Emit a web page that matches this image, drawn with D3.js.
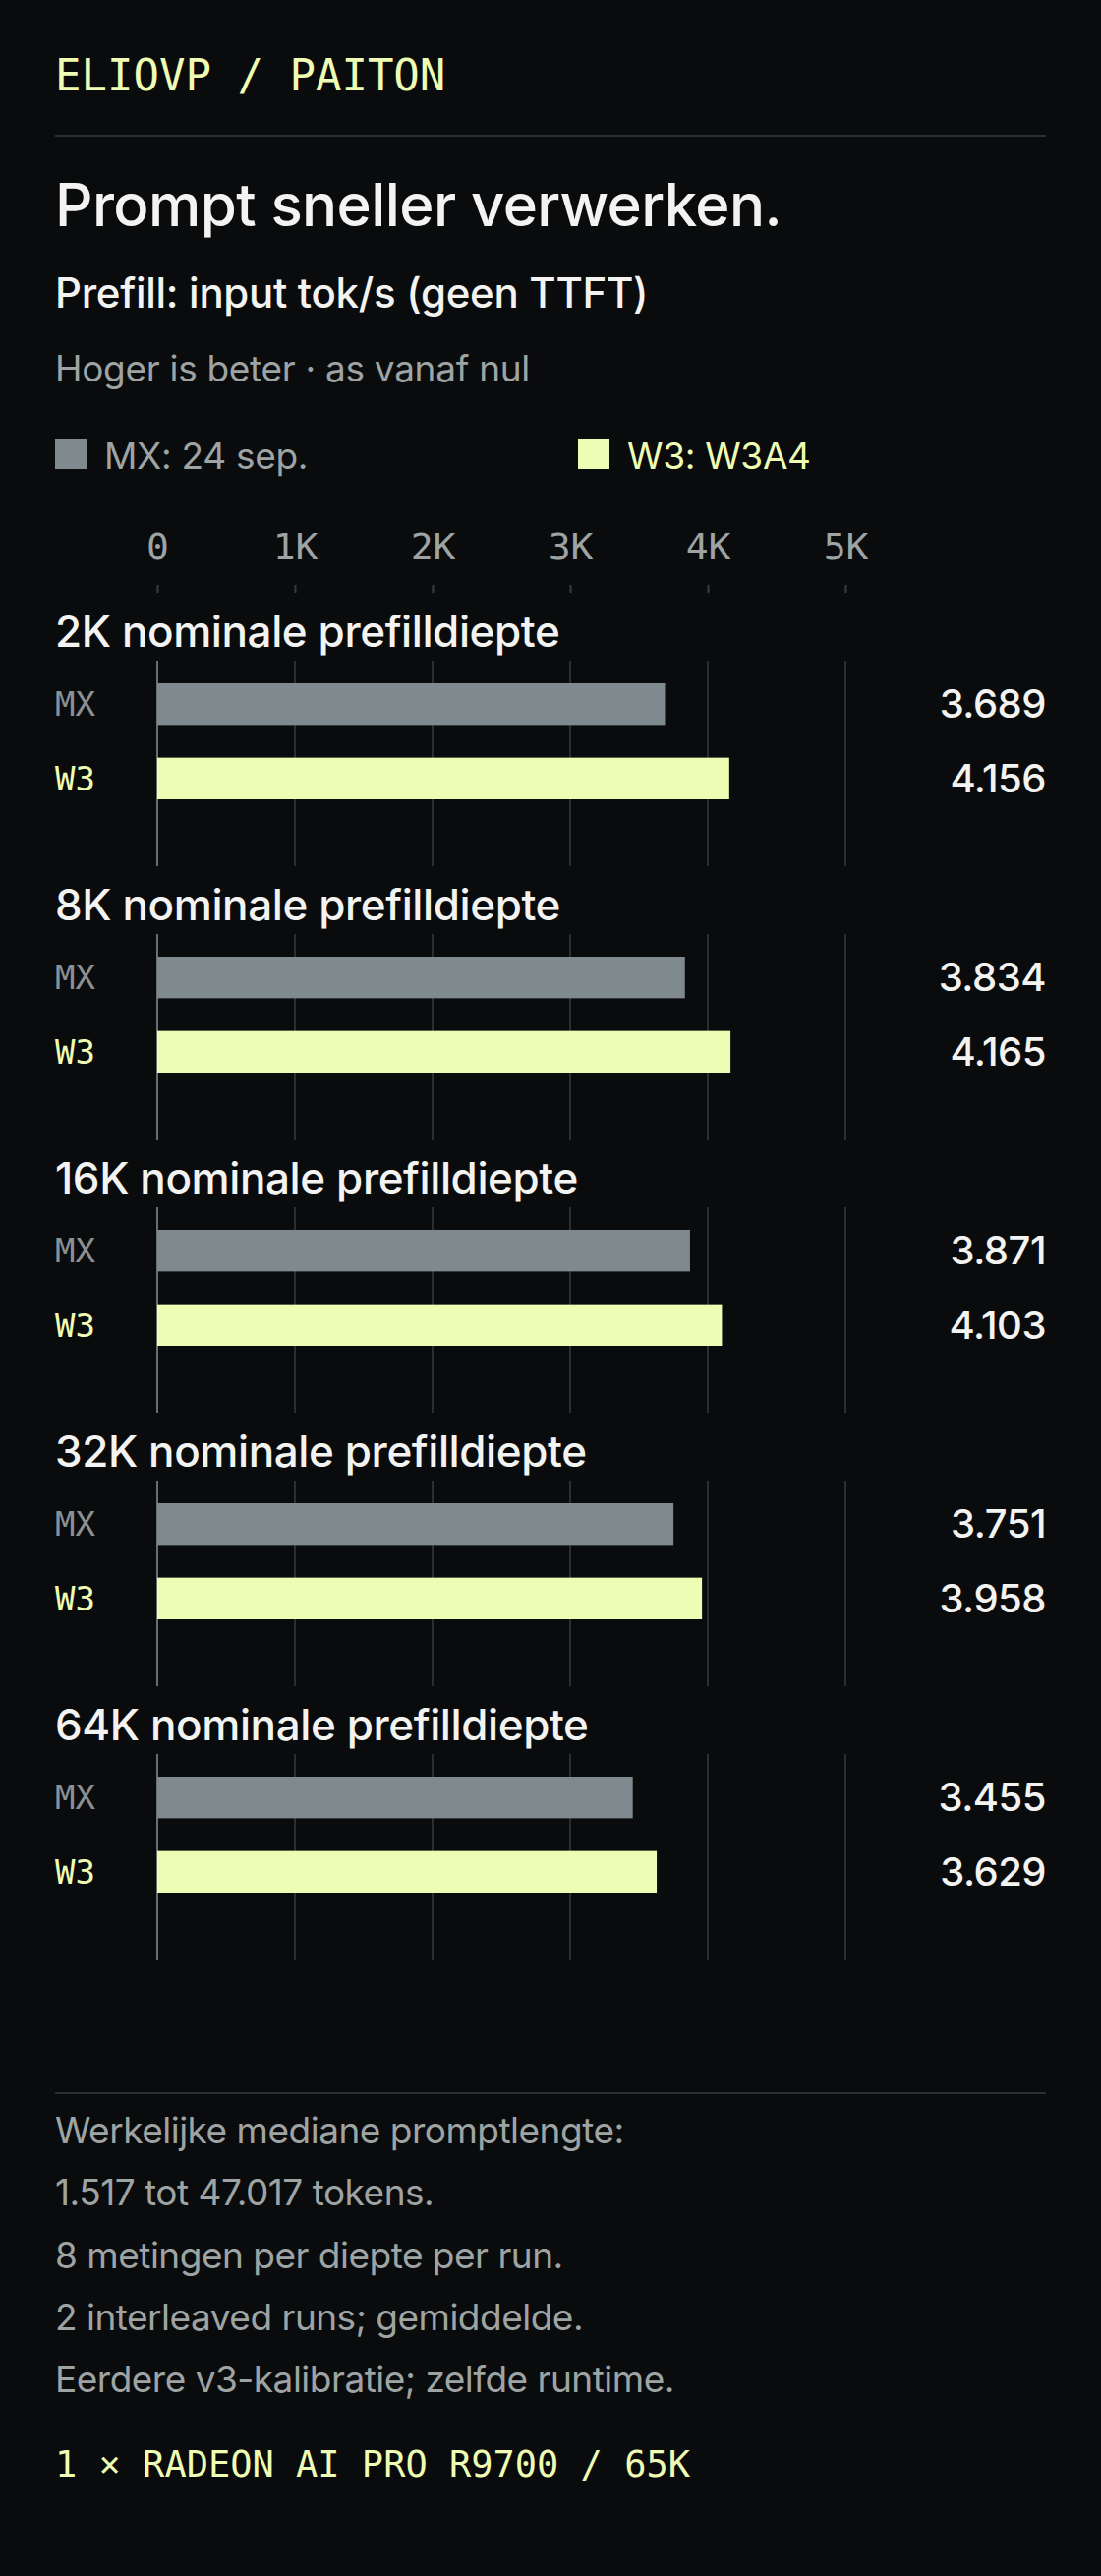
<!DOCTYPE html>
<html><head><meta charset="utf-8">
<script src="https://cdn.jsdelivr.net/npm/d3@7"></script>
<style>
body{margin:0;background:#0a0b0d;}
</style></head>
<body><svg id="c" width="1120" height="2620"></svg>
<script>
const groups = ["2K nominale prefilldiepte","8K nominale prefilldiepte","16K nominale prefilldiepte","32K nominale prefilldiepte","64K nominale prefilldiepte"];
const mxValues = [3689, 3834, 3871, 3751, 3455];
const w3Values = [4156, 4165, 4103, 3958, 3629];
const tickValues = [0, 1000, 2000, 3000, 4000, 5000];
const tickLabels = ["0","1K","2K","3K","4K","5K"];
const footnotes = ["Werkelijke mediane promptlengte:","1.517 tot 47.017 tokens.","8 metingen per diepte per run.","2 interleaved runs; gemiddelde.","Eerdere v3-kalibratie; zelfde runtime."];

const sans = "Inter, 'Noto Sans', sans-serif";
const mono = "'DejaVu Sans Mono', monospace";
const yellow = "#effcb4", grey = "#7f8a8e", white = "#f3f4f2", muted = "#9ea4a3", rule = "#2c2e30";
const fmt = v => d3.format(",")(v).replace(",", ".");

const svg = d3.select("#c");
svg.append("rect").attr("width",1120).attr("height",2620).attr("fill","#0a0b0d");

svg.append("text").attr("x",56).attr("y",92).attr("font-family",mono).attr("font-size",44)
  .attr("fill",yellow).text("ELIOVP / PAITON");
svg.append("line").attr("x1",56).attr("x2",1064).attr("y1",138).attr("y2",138).attr("stroke",rule).attr("stroke-width",2);
svg.append("text").attr("x",56).attr("y",230).attr("font-family",sans).attr("font-size",60).attr("font-weight",500)
  .attr("fill",white).attr("letter-spacing",-0.6).text("Prompt sneller verwerken.");
svg.append("text").attr("x",56).attr("y",313).attr("font-family",sans).attr("font-size",42).attr("font-weight",500)
  .attr("fill",white).attr("letter-spacing",-0.3).text("Prefill: input tok/s (geen TTFT)");
svg.append("text").attr("x",56).attr("y",388).attr("font-family",sans).attr("font-size",37)
  .attr("fill",muted).attr("letter-spacing",-0.3).text("Hoger is beter · as vanaf nul");

// legend
[["MX: 24 sep.", grey, 56, muted], ["W3: W3A4", yellow, 588, yellow]].forEach(([t,c,x,tc]) => {
  svg.append("rect").attr("x",x).attr("y",446).attr("width",32).attr("height",31).attr("fill",c);
  svg.append("text").attr("x",x+50).attr("y",477).attr("font-family",sans).attr("font-size",37)
    .attr("fill",tc).attr("letter-spacing",-0.3).text(t);
});

const x = d3.scaleLinear().domain([0,5000]).range([160,860]);

// top axis
const axis = svg.append("g").attr("transform","translate(0,603)")
  .call(d3.axisTop(x).tickValues(tickValues).tickFormat((d,i)=>tickLabels[i]).tickSize(8).tickPadding(26));
axis.select(".domain").remove();
axis.selectAll("line").attr("stroke","#3a3d3f").attr("stroke-width",2);
axis.selectAll("text").attr("font-family",mono).attr("font-size",38).attr("fill",muted);

const series = [["MX", mxValues, grey, "#8a9194"], ["W3", w3Values, yellow, yellow]];
const step = 278;
groups.forEach((g, gi) => {
  const top = 672 + gi*step;
  const gg = svg.append("g");
  gg.append("text").attr("x",56).attr("y",top-14).attr("font-family",sans).attr("font-size",44).attr("font-weight",500)
    .attr("fill",white).attr("letter-spacing",-0.4).text(g);
  gg.selectAll("line.grid").data(tickValues).join("line").attr("class","grid")
    .attr("x1",d=>x(d)).attr("x2",d=>x(d)).attr("y1",top).attr("y2",top+209)
    .attr("stroke",d=>d===0?"#6a6e70":rule).attr("stroke-width",2);
  const y = d3.scaleBand().domain(["MX","W3"]).range([top+23, top+141]).paddingInner(0.44);
  series.forEach(([k, vals, c, lc]) => {
    gg.append("rect").attr("x",x(0)).attr("y",y(k)).attr("width",x(vals[gi])-x(0))
      .attr("height",y.bandwidth()).attr("fill",c);
    gg.append("text").attr("x",56).attr("y",y(k)+y.bandwidth()/2+12).attr("font-family",mono)
      .attr("font-size",34).attr("fill",lc).text(k);
    gg.append("text").attr("x",1064).attr("y",y(k)+y.bandwidth()/2+14).attr("text-anchor","end")
      .attr("font-family",sans).attr("font-size",40).attr("font-weight",500).attr("fill",white).attr("letter-spacing",-0.5)
      .text(fmt(vals[gi]));
  });
});

svg.append("line").attr("x1",56).attr("x2",1064).attr("y1",2129).attr("y2",2129).attr("stroke",rule).attr("stroke-width",2);
svg.selectAll("text.note").data(footnotes).join("text").attr("class","note")
  .attr("x",56).attr("y",(d,i)=>2180+i*63.3).attr("font-family",sans).attr("font-size",37)
  .attr("fill",muted).attr("letter-spacing",-0.5).text(d=>d);
svg.append("text").attr("x",56).attr("y",2519).attr("font-family",mono).attr("font-size",37)
  .attr("fill",yellow).text("1 × RADEON AI PRO R9700 / 65K");
</script></body></html>
